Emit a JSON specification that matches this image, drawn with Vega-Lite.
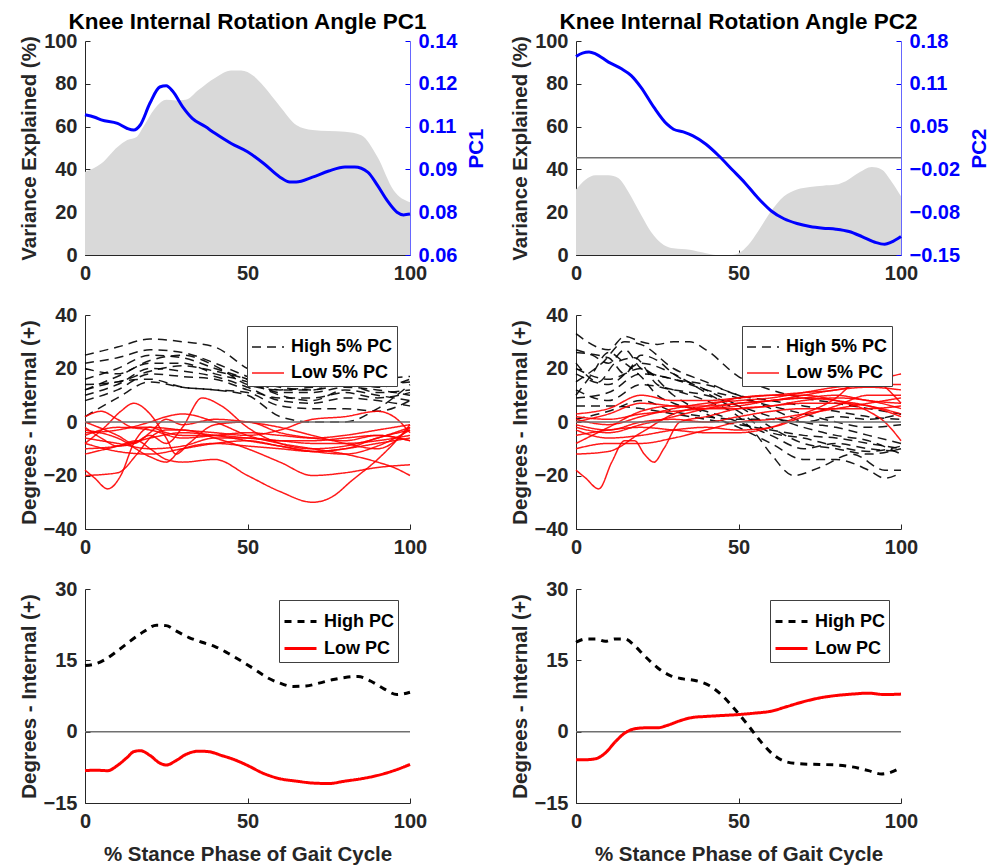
{
  "$schema": "https://vega.github.io/schema/vega-lite/v6.json",
  "background": "white",
  "padding": {"left": 19, "top": 11, "right": 5, "bottom": 5},
  "columns": 2,
  "bounds": "flush",
  "spacing": {"row": 60, "column": 166},
  "config": {
    "view": {"stroke": null},
    "font": "Liberation Sans",
    "axis": {"labelFont": "Liberation Sans", "labelFontSize": 20, "labelFontWeight": "bold", "labelColor": "#262626", "titleFont": "Liberation Sans", "titleFontSize": 20.5, "titleFontWeight": "bold", "titleColor": "#262626", "domainColor": "#262626", "tickColor": "#262626", "grid": false, "tickSize": -5, "labelPadding": 13, "labelFlush": false, "labelOverlap": false, "domainWidth": 1},
    "title": {"font": "Liberation Sans", "fontSize": 22.5, "fontWeight": "bold", "color": "#000000", "offset": -2.7},
    "legend": {"labelFont": "Liberation Sans"}
  },
  "datasets": {
    "var1": [
      {"x": 0, "v": 38.8}, {"x": 5, "v": 42.7}, {"x": 10, "v": 50.5}, {"x": 13, "v": 53.7}, {"x": 16, "v": 55.3}, {"x": 18, "v": 60}, {"x": 22, "v": 69.4}, {"x": 25, "v": 72.5}, {"x": 28, "v": 72.2}, {"x": 31, "v": 72.5}, {"x": 35, "v": 77.2}, {"x": 40, "v": 82.7}, {"x": 45, "v": 86.2}, {"x": 48, "v": 86.2}, {"x": 52, "v": 83.5}, {"x": 55, "v": 78.8}, {"x": 60, "v": 69.4}, {"x": 65, "v": 60.8}, {"x": 70, "v": 58.4}, {"x": 75, "v": 57.9}, {"x": 80, "v": 57.6}, {"x": 85, "v": 56}, {"x": 90, "v": 45.8}, {"x": 95, "v": 30.1}, {"x": 100, "v": 24.6}
    ],
    "pc1": [
      {"x": 0, "pc": 0.1124}, {"x": 3, "pc": 0.1115}, {"x": 5, "pc": 0.1105}, {"x": 10, "pc": 0.1092}, {"x": 13, "pc": 0.1073}, {"x": 15, "pc": 0.1067}, {"x": 17, "pc": 0.1086}, {"x": 20, "pc": 0.1168}, {"x": 23, "pc": 0.1228}, {"x": 25, "pc": 0.1233}, {"x": 27, "pc": 0.1212}, {"x": 30, "pc": 0.1155}, {"x": 33, "pc": 0.1111}, {"x": 37, "pc": 0.108}, {"x": 40, "pc": 0.1055}, {"x": 45, "pc": 0.1017}, {"x": 50, "pc": 0.0986}, {"x": 55, "pc": 0.0942}, {"x": 60, "pc": 0.0891}, {"x": 63, "pc": 0.0873}, {"x": 65, "pc": 0.0873}, {"x": 70, "pc": 0.0891}, {"x": 75, "pc": 0.0914}, {"x": 80, "pc": 0.0929}, {"x": 83, "pc": 0.0929}, {"x": 87, "pc": 0.091}, {"x": 90, "pc": 0.086}, {"x": 93, "pc": 0.0803}, {"x": 96, "pc": 0.076}, {"x": 98, "pc": 0.075}, {"x": 100, "pc": 0.0753}
    ],
    "var2": [
      {"x": 0, "v": 30.6}, {"x": 3, "v": 35.3}, {"x": 6, "v": 37.3}, {"x": 10, "v": 37.3}, {"x": 13, "v": 36}, {"x": 16, "v": 29.8}, {"x": 20, "v": 18.8}, {"x": 23, "v": 11}, {"x": 27, "v": 4.7}, {"x": 30, "v": 3.1}, {"x": 35, "v": 2.4}, {"x": 40, "v": 0.8}, {"x": 43, "v": 0}, {"x": 48, "v": 0}, {"x": 50, "v": 0.8}, {"x": 53, "v": 4.7}, {"x": 56, "v": 11}, {"x": 60, "v": 20.4}, {"x": 64, "v": 27.4}, {"x": 68, "v": 30.6}, {"x": 72, "v": 31.8}, {"x": 76, "v": 32.4}, {"x": 80, "v": 32.9}, {"x": 83, "v": 34.5}, {"x": 87, "v": 38.4}, {"x": 91, "v": 41.1}, {"x": 94, "v": 40}, {"x": 97, "v": 34.5}, {"x": 100, "v": 27.4}
    ],
    "pc2": [
      {"x": 0, "pc": 0.1562}, {"x": 2, "pc": 0.1614}, {"x": 4, "pc": 0.163}, {"x": 6, "pc": 0.1603}, {"x": 10, "pc": 0.1474}, {"x": 14, "pc": 0.1371}, {"x": 17, "pc": 0.1267}, {"x": 20, "pc": 0.1086}, {"x": 24, "pc": 0.0776}, {"x": 28, "pc": 0.0517}, {"x": 30, "pc": 0.044}, {"x": 33, "pc": 0.0398}, {"x": 36, "pc": 0.0336}, {"x": 40, "pc": 0.0207}, {"x": 44, "pc": 0.0026}, {"x": 48, "pc": -0.0181}, {"x": 52, "pc": -0.0388}, {"x": 56, "pc": -0.0621}, {"x": 60, "pc": -0.0817}, {"x": 64, "pc": -0.0941}, {"x": 68, "pc": -0.1014}, {"x": 72, "pc": -0.106}, {"x": 76, "pc": -0.1086}, {"x": 80, "pc": -0.1102}, {"x": 84, "pc": -0.1138}, {"x": 88, "pc": -0.1216}, {"x": 92, "pc": -0.1303}, {"x": 95, "pc": -0.1334}, {"x": 97, "pc": -0.1303}, {"x": 100, "pc": -0.1216}
    ],
    "zero": [{"zero": 0}],
    "mid1": [
      {"id": "h1", "g": "High 5% PC", "x": 0, "y": 25}, {"id": "h1", "g": "High 5% PC", "x": 10, "y": 28}, {"id": "h1", "g": "High 5% PC", "x": 20, "y": 31}, {"id": "h1", "g": "High 5% PC", "x": 30, "y": 30}, {"id": "h1", "g": "High 5% PC", "x": 40, "y": 28}, {"id": "h1", "g": "High 5% PC", "x": 50, "y": 20}, {"id": "h1", "g": "High 5% PC", "x": 60, "y": 15}, {"id": "h1", "g": "High 5% PC", "x": 70, "y": 14}, {"id": "h1", "g": "High 5% PC", "x": 80, "y": 16}, {"id": "h1", "g": "High 5% PC", "x": 90, "y": 13}, {"id": "h1", "g": "High 5% PC", "x": 100, "y": 16},
      {"id": "h2", "g": "High 5% PC", "x": 0, "y": 22}, {"id": "h2", "g": "High 5% PC", "x": 10, "y": 24}, {"id": "h2", "g": "High 5% PC", "x": 20, "y": 27}, {"id": "h2", "g": "High 5% PC", "x": 30, "y": 26}, {"id": "h2", "g": "High 5% PC", "x": 40, "y": 22}, {"id": "h2", "g": "High 5% PC", "x": 50, "y": 17}, {"id": "h2", "g": "High 5% PC", "x": 60, "y": 13}, {"id": "h2", "g": "High 5% PC", "x": 70, "y": 12}, {"id": "h2", "g": "High 5% PC", "x": 80, "y": 14}, {"id": "h2", "g": "High 5% PC", "x": 90, "y": 11}, {"id": "h2", "g": "High 5% PC", "x": 100, "y": 12},
      {"id": "h3", "g": "High 5% PC", "x": 0, "y": 16}, {"id": "h3", "g": "High 5% PC", "x": 10, "y": 20}, {"id": "h3", "g": "High 5% PC", "x": 20, "y": 25}, {"id": "h3", "g": "High 5% PC", "x": 30, "y": 24}, {"id": "h3", "g": "High 5% PC", "x": 40, "y": 20}, {"id": "h3", "g": "High 5% PC", "x": 50, "y": 16}, {"id": "h3", "g": "High 5% PC", "x": 60, "y": 11}, {"id": "h3", "g": "High 5% PC", "x": 70, "y": 11}, {"id": "h3", "g": "High 5% PC", "x": 80, "y": 13}, {"id": "h3", "g": "High 5% PC", "x": 90, "y": 12}, {"id": "h3", "g": "High 5% PC", "x": 100, "y": 10},
      {"id": "h4", "g": "High 5% PC", "x": 0, "y": 12}, {"id": "h4", "g": "High 5% PC", "x": 10, "y": 17}, {"id": "h4", "g": "High 5% PC", "x": 20, "y": 22}, {"id": "h4", "g": "High 5% PC", "x": 30, "y": 22}, {"id": "h4", "g": "High 5% PC", "x": 40, "y": 18}, {"id": "h4", "g": "High 5% PC", "x": 50, "y": 15}, {"id": "h4", "g": "High 5% PC", "x": 60, "y": 10}, {"id": "h4", "g": "High 5% PC", "x": 70, "y": 8}, {"id": "h4", "g": "High 5% PC", "x": 80, "y": 12}, {"id": "h4", "g": "High 5% PC", "x": 90, "y": 10}, {"id": "h4", "g": "High 5% PC", "x": 100, "y": 8},
      {"id": "h5", "g": "High 5% PC", "x": 0, "y": 10}, {"id": "h5", "g": "High 5% PC", "x": 10, "y": 14}, {"id": "h5", "g": "High 5% PC", "x": 20, "y": 20}, {"id": "h5", "g": "High 5% PC", "x": 30, "y": 19}, {"id": "h5", "g": "High 5% PC", "x": 40, "y": 17}, {"id": "h5", "g": "High 5% PC", "x": 50, "y": 13}, {"id": "h5", "g": "High 5% PC", "x": 60, "y": 8}, {"id": "h5", "g": "High 5% PC", "x": 70, "y": 7}, {"id": "h5", "g": "High 5% PC", "x": 80, "y": 9}, {"id": "h5", "g": "High 5% PC", "x": 90, "y": 8}, {"id": "h5", "g": "High 5% PC", "x": 100, "y": 6},
      {"id": "h6", "g": "High 5% PC", "x": 0, "y": 8}, {"id": "h6", "g": "High 5% PC", "x": 10, "y": 12}, {"id": "h6", "g": "High 5% PC", "x": 20, "y": 18}, {"id": "h6", "g": "High 5% PC", "x": 30, "y": 17}, {"id": "h6", "g": "High 5% PC", "x": 40, "y": 16}, {"id": "h6", "g": "High 5% PC", "x": 50, "y": 12}, {"id": "h6", "g": "High 5% PC", "x": 60, "y": 9}, {"id": "h6", "g": "High 5% PC", "x": 70, "y": 9}, {"id": "h6", "g": "High 5% PC", "x": 80, "y": 11}, {"id": "h6", "g": "High 5% PC", "x": 90, "y": 9}, {"id": "h6", "g": "High 5% PC", "x": 100, "y": 11},
      {"id": "h7", "g": "High 5% PC", "x": 0, "y": 2}, {"id": "h7", "g": "High 5% PC", "x": 10, "y": 9}, {"id": "h7", "g": "High 5% PC", "x": 20, "y": 15}, {"id": "h7", "g": "High 5% PC", "x": 30, "y": 13}, {"id": "h7", "g": "High 5% PC", "x": 40, "y": 12}, {"id": "h7", "g": "High 5% PC", "x": 50, "y": 11}, {"id": "h7", "g": "High 5% PC", "x": 60, "y": 6}, {"id": "h7", "g": "High 5% PC", "x": 70, "y": 5}, {"id": "h7", "g": "High 5% PC", "x": 80, "y": 5}, {"id": "h7", "g": "High 5% PC", "x": 90, "y": 4}, {"id": "h7", "g": "High 5% PC", "x": 100, "y": 8},
      {"id": "h8", "g": "High 5% PC", "x": 0, "y": 12}, {"id": "h8", "g": "High 5% PC", "x": 10, "y": 15}, {"id": "h8", "g": "High 5% PC", "x": 20, "y": 16}, {"id": "h8", "g": "High 5% PC", "x": 30, "y": 13}, {"id": "h8", "g": "High 5% PC", "x": 40, "y": 12}, {"id": "h8", "g": "High 5% PC", "x": 50, "y": 10}, {"id": "h8", "g": "High 5% PC", "x": 60, "y": 2}, {"id": "h8", "g": "High 5% PC", "x": 70, "y": 0}, {"id": "h8", "g": "High 5% PC", "x": 80, "y": 0}, {"id": "h8", "g": "High 5% PC", "x": 90, "y": 5}, {"id": "h8", "g": "High 5% PC", "x": 100, "y": 14},
      {"id": "h9", "g": "High 5% PC", "x": 0, "y": 20}, {"id": "h9", "g": "High 5% PC", "x": 10, "y": 18}, {"id": "h9", "g": "High 5% PC", "x": 20, "y": 23}, {"id": "h9", "g": "High 5% PC", "x": 30, "y": 25}, {"id": "h9", "g": "High 5% PC", "x": 40, "y": 21}, {"id": "h9", "g": "High 5% PC", "x": 50, "y": 14}, {"id": "h9", "g": "High 5% PC", "x": 60, "y": 12}, {"id": "h9", "g": "High 5% PC", "x": 70, "y": 12}, {"id": "h9", "g": "High 5% PC", "x": 80, "y": 15}, {"id": "h9", "g": "High 5% PC", "x": 90, "y": 14}, {"id": "h9", "g": "High 5% PC", "x": 100, "y": 15},
      {"id": "h10", "g": "High 5% PC", "x": 0, "y": 14}, {"id": "h10", "g": "High 5% PC", "x": 10, "y": 15}, {"id": "h10", "g": "High 5% PC", "x": 20, "y": 19}, {"id": "h10", "g": "High 5% PC", "x": 30, "y": 21}, {"id": "h10", "g": "High 5% PC", "x": 40, "y": 19}, {"id": "h10", "g": "High 5% PC", "x": 50, "y": 16}, {"id": "h10", "g": "High 5% PC", "x": 60, "y": 12}, {"id": "h10", "g": "High 5% PC", "x": 70, "y": 13}, {"id": "h10", "g": "High 5% PC", "x": 80, "y": 14}, {"id": "h10", "g": "High 5% PC", "x": 90, "y": 16}, {"id": "h10", "g": "High 5% PC", "x": 100, "y": 17},
      {"id": "l1", "g": "Low 5% PC", "x": 0, "y": -2}, {"id": "l1", "g": "Low 5% PC", "x": 5, "y": -6}, {"id": "l1", "g": "Low 5% PC", "x": 10, "y": -9}, {"id": "l1", "g": "Low 5% PC", "x": 15, "y": -8}, {"id": "l1", "g": "Low 5% PC", "x": 20, "y": -5}, {"id": "l1", "g": "Low 5% PC", "x": 25, "y": -8}, {"id": "l1", "g": "Low 5% PC", "x": 30, "y": -2}, {"id": "l1", "g": "Low 5% PC", "x": 36, "y": 9}, {"id": "l1", "g": "Low 5% PC", "x": 42, "y": 6}, {"id": "l1", "g": "Low 5% PC", "x": 50, "y": -2}, {"id": "l1", "g": "Low 5% PC", "x": 60, "y": -8}, {"id": "l1", "g": "Low 5% PC", "x": 70, "y": -10}, {"id": "l1", "g": "Low 5% PC", "x": 80, "y": -9}, {"id": "l1", "g": "Low 5% PC", "x": 90, "y": -6}, {"id": "l1", "g": "Low 5% PC", "x": 100, "y": -2},
      {"id": "l2", "g": "Low 5% PC", "x": 0, "y": -18}, {"id": "l2", "g": "Low 5% PC", "x": 3, "y": -21}, {"id": "l2", "g": "Low 5% PC", "x": 7, "y": -25}, {"id": "l2", "g": "Low 5% PC", "x": 11, "y": -20}, {"id": "l2", "g": "Low 5% PC", "x": 15, "y": -8}, {"id": "l2", "g": "Low 5% PC", "x": 20, "y": -2}, {"id": "l2", "g": "Low 5% PC", "x": 25, "y": -4}, {"id": "l2", "g": "Low 5% PC", "x": 30, "y": -5}, {"id": "l2", "g": "Low 5% PC", "x": 40, "y": -5}, {"id": "l2", "g": "Low 5% PC", "x": 50, "y": -6}, {"id": "l2", "g": "Low 5% PC", "x": 60, "y": -7}, {"id": "l2", "g": "Low 5% PC", "x": 70, "y": -7}, {"id": "l2", "g": "Low 5% PC", "x": 80, "y": -6}, {"id": "l2", "g": "Low 5% PC", "x": 90, "y": -5}, {"id": "l2", "g": "Low 5% PC", "x": 100, "y": -7},
      {"id": "l3", "g": "Low 5% PC", "x": 0, "y": -12}, {"id": "l3", "g": "Low 5% PC", "x": 10, "y": -9}, {"id": "l3", "g": "Low 5% PC", "x": 16, "y": -7}, {"id": "l3", "g": "Low 5% PC", "x": 20, "y": -10}, {"id": "l3", "g": "Low 5% PC", "x": 25, "y": -14}, {"id": "l3", "g": "Low 5% PC", "x": 30, "y": -15}, {"id": "l3", "g": "Low 5% PC", "x": 40, "y": -14}, {"id": "l3", "g": "Low 5% PC", "x": 50, "y": -20}, {"id": "l3", "g": "Low 5% PC", "x": 60, "y": -26}, {"id": "l3", "g": "Low 5% PC", "x": 70, "y": -30}, {"id": "l3", "g": "Low 5% PC", "x": 76, "y": -28}, {"id": "l3", "g": "Low 5% PC", "x": 82, "y": -22}, {"id": "l3", "g": "Low 5% PC", "x": 90, "y": -14}, {"id": "l3", "g": "Low 5% PC", "x": 95, "y": -8}, {"id": "l3", "g": "Low 5% PC", "x": 100, "y": -1},
      {"id": "l4", "g": "Low 5% PC", "x": 0, "y": -20}, {"id": "l4", "g": "Low 5% PC", "x": 10, "y": -19}, {"id": "l4", "g": "Low 5% PC", "x": 16, "y": -12}, {"id": "l4", "g": "Low 5% PC", "x": 20, "y": -6}, {"id": "l4", "g": "Low 5% PC", "x": 25, "y": -3}, {"id": "l4", "g": "Low 5% PC", "x": 30, "y": -3}, {"id": "l4", "g": "Low 5% PC", "x": 40, "y": -6}, {"id": "l4", "g": "Low 5% PC", "x": 50, "y": -10}, {"id": "l4", "g": "Low 5% PC", "x": 60, "y": -15}, {"id": "l4", "g": "Low 5% PC", "x": 70, "y": -20}, {"id": "l4", "g": "Low 5% PC", "x": 80, "y": -19}, {"id": "l4", "g": "Low 5% PC", "x": 90, "y": -17}, {"id": "l4", "g": "Low 5% PC", "x": 100, "y": -16},
      {"id": "l5", "g": "Low 5% PC", "x": 0, "y": -8}, {"id": "l5", "g": "Low 5% PC", "x": 6, "y": -2}, {"id": "l5", "g": "Low 5% PC", "x": 11, "y": 4}, {"id": "l5", "g": "Low 5% PC", "x": 15, "y": 7}, {"id": "l5", "g": "Low 5% PC", "x": 20, "y": 3}, {"id": "l5", "g": "Low 5% PC", "x": 25, "y": -6}, {"id": "l5", "g": "Low 5% PC", "x": 28, "y": -12}, {"id": "l5", "g": "Low 5% PC", "x": 32, "y": -8}, {"id": "l5", "g": "Low 5% PC", "x": 40, "y": -1}, {"id": "l5", "g": "Low 5% PC", "x": 50, "y": 0}, {"id": "l5", "g": "Low 5% PC", "x": 60, "y": -4}, {"id": "l5", "g": "Low 5% PC", "x": 70, "y": -6}, {"id": "l5", "g": "Low 5% PC", "x": 80, "y": -7}, {"id": "l5", "g": "Low 5% PC", "x": 90, "y": -5}, {"id": "l5", "g": "Low 5% PC", "x": 100, "y": -7},
      {"id": "l6", "g": "Low 5% PC", "x": 0, "y": 2}, {"id": "l6", "g": "Low 5% PC", "x": 5, "y": 4}, {"id": "l6", "g": "Low 5% PC", "x": 10, "y": 1}, {"id": "l6", "g": "Low 5% PC", "x": 15, "y": -2}, {"id": "l6", "g": "Low 5% PC", "x": 20, "y": -2}, {"id": "l6", "g": "Low 5% PC", "x": 30, "y": -3}, {"id": "l6", "g": "Low 5% PC", "x": 40, "y": -4}, {"id": "l6", "g": "Low 5% PC", "x": 50, "y": -5}, {"id": "l6", "g": "Low 5% PC", "x": 60, "y": -3}, {"id": "l6", "g": "Low 5% PC", "x": 70, "y": 1}, {"id": "l6", "g": "Low 5% PC", "x": 80, "y": 2}, {"id": "l6", "g": "Low 5% PC", "x": 90, "y": 4}, {"id": "l6", "g": "Low 5% PC", "x": 95, "y": 2}, {"id": "l6", "g": "Low 5% PC", "x": 100, "y": -4},
      {"id": "l7", "g": "Low 5% PC", "x": 0, "y": 0}, {"id": "l7", "g": "Low 5% PC", "x": 10, "y": -5}, {"id": "l7", "g": "Low 5% PC", "x": 15, "y": -8}, {"id": "l7", "g": "Low 5% PC", "x": 20, "y": -4}, {"id": "l7", "g": "Low 5% PC", "x": 25, "y": 1}, {"id": "l7", "g": "Low 5% PC", "x": 30, "y": -1}, {"id": "l7", "g": "Low 5% PC", "x": 40, "y": 1}, {"id": "l7", "g": "Low 5% PC", "x": 50, "y": 0}, {"id": "l7", "g": "Low 5% PC", "x": 60, "y": -2}, {"id": "l7", "g": "Low 5% PC", "x": 70, "y": -5}, {"id": "l7", "g": "Low 5% PC", "x": 80, "y": -8}, {"id": "l7", "g": "Low 5% PC", "x": 90, "y": -10}, {"id": "l7", "g": "Low 5% PC", "x": 100, "y": -2},
      {"id": "l8", "g": "Low 5% PC", "x": 0, "y": -4}, {"id": "l8", "g": "Low 5% PC", "x": 10, "y": -3}, {"id": "l8", "g": "Low 5% PC", "x": 20, "y": 0}, {"id": "l8", "g": "Low 5% PC", "x": 25, "y": 2}, {"id": "l8", "g": "Low 5% PC", "x": 30, "y": 3}, {"id": "l8", "g": "Low 5% PC", "x": 40, "y": 0}, {"id": "l8", "g": "Low 5% PC", "x": 50, "y": -5}, {"id": "l8", "g": "Low 5% PC", "x": 60, "y": -8}, {"id": "l8", "g": "Low 5% PC", "x": 70, "y": -10}, {"id": "l8", "g": "Low 5% PC", "x": 80, "y": -12}, {"id": "l8", "g": "Low 5% PC", "x": 90, "y": -15}, {"id": "l8", "g": "Low 5% PC", "x": 95, "y": -17}, {"id": "l8", "g": "Low 5% PC", "x": 100, "y": -20},
      {"id": "l9", "g": "Low 5% PC", "x": 0, "y": -6}, {"id": "l9", "g": "Low 5% PC", "x": 10, "y": -8}, {"id": "l9", "g": "Low 5% PC", "x": 20, "y": -10}, {"id": "l9", "g": "Low 5% PC", "x": 30, "y": -9}, {"id": "l9", "g": "Low 5% PC", "x": 40, "y": -6}, {"id": "l9", "g": "Low 5% PC", "x": 50, "y": -6}, {"id": "l9", "g": "Low 5% PC", "x": 60, "y": -7}, {"id": "l9", "g": "Low 5% PC", "x": 70, "y": -8}, {"id": "l9", "g": "Low 5% PC", "x": 80, "y": -8}, {"id": "l9", "g": "Low 5% PC", "x": 90, "y": -7}, {"id": "l9", "g": "Low 5% PC", "x": 100, "y": -5},
      {"id": "l10", "g": "Low 5% PC", "x": 0, "y": -10}, {"id": "l10", "g": "Low 5% PC", "x": 10, "y": -9}, {"id": "l10", "g": "Low 5% PC", "x": 20, "y": -6}, {"id": "l10", "g": "Low 5% PC", "x": 30, "y": -4}, {"id": "l10", "g": "Low 5% PC", "x": 40, "y": -5}, {"id": "l10", "g": "Low 5% PC", "x": 50, "y": -7}, {"id": "l10", "g": "Low 5% PC", "x": 60, "y": -9}, {"id": "l10", "g": "Low 5% PC", "x": 70, "y": -11}, {"id": "l10", "g": "Low 5% PC", "x": 80, "y": -12}, {"id": "l10", "g": "Low 5% PC", "x": 90, "y": -9}, {"id": "l10", "g": "Low 5% PC", "x": 100, "y": -3},
      {"id": "l11", "g": "Low 5% PC", "x": 0, "y": -5}, {"id": "l11", "g": "Low 5% PC", "x": 10, "y": -2}, {"id": "l11", "g": "Low 5% PC", "x": 20, "y": -3}, {"id": "l11", "g": "Low 5% PC", "x": 30, "y": -6}, {"id": "l11", "g": "Low 5% PC", "x": 40, "y": -5}, {"id": "l11", "g": "Low 5% PC", "x": 50, "y": -4}, {"id": "l11", "g": "Low 5% PC", "x": 60, "y": -5}, {"id": "l11", "g": "Low 5% PC", "x": 70, "y": -6}, {"id": "l11", "g": "Low 5% PC", "x": 80, "y": -5}, {"id": "l11", "g": "Low 5% PC", "x": 90, "y": -3}, {"id": "l11", "g": "Low 5% PC", "x": 100, "y": -1},
      {"id": "l12", "g": "Low 5% PC", "x": 0, "y": -3}, {"id": "l12", "g": "Low 5% PC", "x": 10, "y": -6}, {"id": "l12", "g": "Low 5% PC", "x": 20, "y": -13}, {"id": "l12", "g": "Low 5% PC", "x": 25, "y": -15}, {"id": "l12", "g": "Low 5% PC", "x": 30, "y": -10}, {"id": "l12", "g": "Low 5% PC", "x": 40, "y": -8}, {"id": "l12", "g": "Low 5% PC", "x": 50, "y": -9}, {"id": "l12", "g": "Low 5% PC", "x": 60, "y": -10}, {"id": "l12", "g": "Low 5% PC", "x": 70, "y": -11}, {"id": "l12", "g": "Low 5% PC", "x": 80, "y": -10}, {"id": "l12", "g": "Low 5% PC", "x": 90, "y": -8}, {"id": "l12", "g": "Low 5% PC", "x": 100, "y": -6},
      {"id": "l13", "g": "Low 5% PC", "x": 0, "y": -8}, {"id": "l13", "g": "Low 5% PC", "x": 10, "y": -11}, {"id": "l13", "g": "Low 5% PC", "x": 20, "y": -12}, {"id": "l13", "g": "Low 5% PC", "x": 30, "y": -10}, {"id": "l13", "g": "Low 5% PC", "x": 40, "y": -8}, {"id": "l13", "g": "Low 5% PC", "x": 50, "y": -7}, {"id": "l13", "g": "Low 5% PC", "x": 60, "y": -9}, {"id": "l13", "g": "Low 5% PC", "x": 70, "y": -11}, {"id": "l13", "g": "Low 5% PC", "x": 80, "y": -10}, {"id": "l13", "g": "Low 5% PC", "x": 90, "y": -6}, {"id": "l13", "g": "Low 5% PC", "x": 100, "y": -3}
    ],
    "mid2": [
      {"id": "m1", "g": "High 5% PC", "x": 0, "y": 33}, {"id": "m1", "g": "High 5% PC", "x": 10, "y": 27}, {"id": "m1", "g": "High 5% PC", "x": 15, "y": 32}, {"id": "m1", "g": "High 5% PC", "x": 20, "y": 30}, {"id": "m1", "g": "High 5% PC", "x": 25, "y": 29}, {"id": "m1", "g": "High 5% PC", "x": 30, "y": 30}, {"id": "m1", "g": "High 5% PC", "x": 35, "y": 30}, {"id": "m1", "g": "High 5% PC", "x": 40, "y": 27}, {"id": "m1", "g": "High 5% PC", "x": 50, "y": 17}, {"id": "m1", "g": "High 5% PC", "x": 60, "y": 12}, {"id": "m1", "g": "High 5% PC", "x": 70, "y": 9}, {"id": "m1", "g": "High 5% PC", "x": 80, "y": 7}, {"id": "m1", "g": "High 5% PC", "x": 90, "y": 5}, {"id": "m1", "g": "High 5% PC", "x": 100, "y": 3},
      {"id": "m2", "g": "High 5% PC", "x": 0, "y": 27}, {"id": "m2", "g": "High 5% PC", "x": 5, "y": 25}, {"id": "m2", "g": "High 5% PC", "x": 10, "y": 22}, {"id": "m2", "g": "High 5% PC", "x": 15, "y": 27}, {"id": "m2", "g": "High 5% PC", "x": 20, "y": 20}, {"id": "m2", "g": "High 5% PC", "x": 30, "y": 16}, {"id": "m2", "g": "High 5% PC", "x": 40, "y": 14}, {"id": "m2", "g": "High 5% PC", "x": 50, "y": 10}, {"id": "m2", "g": "High 5% PC", "x": 60, "y": 5}, {"id": "m2", "g": "High 5% PC", "x": 70, "y": 0}, {"id": "m2", "g": "High 5% PC", "x": 80, "y": -2}, {"id": "m2", "g": "High 5% PC", "x": 90, "y": -5}, {"id": "m2", "g": "High 5% PC", "x": 100, "y": -8},
      {"id": "m3", "g": "High 5% PC", "x": 0, "y": 26}, {"id": "m3", "g": "High 5% PC", "x": 10, "y": 24}, {"id": "m3", "g": "High 5% PC", "x": 15, "y": 18}, {"id": "m3", "g": "High 5% PC", "x": 20, "y": 25}, {"id": "m3", "g": "High 5% PC", "x": 25, "y": 23}, {"id": "m3", "g": "High 5% PC", "x": 30, "y": 18}, {"id": "m3", "g": "High 5% PC", "x": 40, "y": 12}, {"id": "m3", "g": "High 5% PC", "x": 50, "y": 6}, {"id": "m3", "g": "High 5% PC", "x": 60, "y": -2}, {"id": "m3", "g": "High 5% PC", "x": 70, "y": -8}, {"id": "m3", "g": "High 5% PC", "x": 80, "y": -10}, {"id": "m3", "g": "High 5% PC", "x": 90, "y": -12}, {"id": "m3", "g": "High 5% PC", "x": 100, "y": -10},
      {"id": "m4", "g": "High 5% PC", "x": 0, "y": 22}, {"id": "m4", "g": "High 5% PC", "x": 7, "y": 15}, {"id": "m4", "g": "High 5% PC", "x": 12, "y": 22}, {"id": "m4", "g": "High 5% PC", "x": 18, "y": 24}, {"id": "m4", "g": "High 5% PC", "x": 25, "y": 14}, {"id": "m4", "g": "High 5% PC", "x": 30, "y": 12}, {"id": "m4", "g": "High 5% PC", "x": 40, "y": 8}, {"id": "m4", "g": "High 5% PC", "x": 50, "y": 2}, {"id": "m4", "g": "High 5% PC", "x": 55, "y": -4}, {"id": "m4", "g": "High 5% PC", "x": 60, "y": -12}, {"id": "m4", "g": "High 5% PC", "x": 67, "y": -20}, {"id": "m4", "g": "High 5% PC", "x": 75, "y": -17}, {"id": "m4", "g": "High 5% PC", "x": 85, "y": -12}, {"id": "m4", "g": "High 5% PC", "x": 95, "y": -18}, {"id": "m4", "g": "High 5% PC", "x": 100, "y": -18},
      {"id": "m5", "g": "High 5% PC", "x": 0, "y": 20}, {"id": "m5", "g": "High 5% PC", "x": 10, "y": 16}, {"id": "m5", "g": "High 5% PC", "x": 20, "y": 20}, {"id": "m5", "g": "High 5% PC", "x": 30, "y": 10}, {"id": "m5", "g": "High 5% PC", "x": 40, "y": 3}, {"id": "m5", "g": "High 5% PC", "x": 50, "y": -2}, {"id": "m5", "g": "High 5% PC", "x": 60, "y": -8}, {"id": "m5", "g": "High 5% PC", "x": 70, "y": -14}, {"id": "m5", "g": "High 5% PC", "x": 80, "y": -14}, {"id": "m5", "g": "High 5% PC", "x": 90, "y": -18}, {"id": "m5", "g": "High 5% PC", "x": 95, "y": -21}, {"id": "m5", "g": "High 5% PC", "x": 100, "y": -19},
      {"id": "m6", "g": "High 5% PC", "x": 0, "y": 10}, {"id": "m6", "g": "High 5% PC", "x": 5, "y": 18}, {"id": "m6", "g": "High 5% PC", "x": 10, "y": 26}, {"id": "m6", "g": "High 5% PC", "x": 15, "y": 22}, {"id": "m6", "g": "High 5% PC", "x": 20, "y": 17}, {"id": "m6", "g": "High 5% PC", "x": 25, "y": 10}, {"id": "m6", "g": "High 5% PC", "x": 30, "y": 7}, {"id": "m6", "g": "High 5% PC", "x": 40, "y": 4}, {"id": "m6", "g": "High 5% PC", "x": 50, "y": 0}, {"id": "m6", "g": "High 5% PC", "x": 60, "y": -5}, {"id": "m6", "g": "High 5% PC", "x": 70, "y": -10}, {"id": "m6", "g": "High 5% PC", "x": 80, "y": -8}, {"id": "m6", "g": "High 5% PC", "x": 90, "y": -10}, {"id": "m6", "g": "High 5% PC", "x": 100, "y": -11},
      {"id": "m7", "g": "High 5% PC", "x": 0, "y": 12}, {"id": "m7", "g": "High 5% PC", "x": 10, "y": 8}, {"id": "m7", "g": "High 5% PC", "x": 20, "y": 14}, {"id": "m7", "g": "High 5% PC", "x": 30, "y": 12}, {"id": "m7", "g": "High 5% PC", "x": 40, "y": 10}, {"id": "m7", "g": "High 5% PC", "x": 50, "y": 6}, {"id": "m7", "g": "High 5% PC", "x": 60, "y": 2}, {"id": "m7", "g": "High 5% PC", "x": 70, "y": -2}, {"id": "m7", "g": "High 5% PC", "x": 80, "y": -5}, {"id": "m7", "g": "High 5% PC", "x": 90, "y": -7}, {"id": "m7", "g": "High 5% PC", "x": 100, "y": -12},
      {"id": "m8", "g": "High 5% PC", "x": 0, "y": 6}, {"id": "m8", "g": "High 5% PC", "x": 10, "y": 6}, {"id": "m8", "g": "High 5% PC", "x": 20, "y": 5}, {"id": "m8", "g": "High 5% PC", "x": 30, "y": 3}, {"id": "m8", "g": "High 5% PC", "x": 40, "y": 1}, {"id": "m8", "g": "High 5% PC", "x": 50, "y": -1}, {"id": "m8", "g": "High 5% PC", "x": 60, "y": -3}, {"id": "m8", "g": "High 5% PC", "x": 70, "y": -5}, {"id": "m8", "g": "High 5% PC", "x": 80, "y": -6}, {"id": "m8", "g": "High 5% PC", "x": 90, "y": -8}, {"id": "m8", "g": "High 5% PC", "x": 100, "y": -10},
      {"id": "m9", "g": "High 5% PC", "x": 0, "y": 1}, {"id": "m9", "g": "High 5% PC", "x": 10, "y": 4}, {"id": "m9", "g": "High 5% PC", "x": 20, "y": 8}, {"id": "m9", "g": "High 5% PC", "x": 30, "y": 4}, {"id": "m9", "g": "High 5% PC", "x": 40, "y": 2}, {"id": "m9", "g": "High 5% PC", "x": 50, "y": 1}, {"id": "m9", "g": "High 5% PC", "x": 60, "y": 1}, {"id": "m9", "g": "High 5% PC", "x": 70, "y": 0}, {"id": "m9", "g": "High 5% PC", "x": 80, "y": 2}, {"id": "m9", "g": "High 5% PC", "x": 90, "y": 1}, {"id": "m9", "g": "High 5% PC", "x": 100, "y": 3},
      {"id": "m10", "g": "High 5% PC", "x": 0, "y": 9}, {"id": "m10", "g": "High 5% PC", "x": 10, "y": 11}, {"id": "m10", "g": "High 5% PC", "x": 20, "y": 18}, {"id": "m10", "g": "High 5% PC", "x": 30, "y": 16}, {"id": "m10", "g": "High 5% PC", "x": 40, "y": 12}, {"id": "m10", "g": "High 5% PC", "x": 50, "y": 9}, {"id": "m10", "g": "High 5% PC", "x": 60, "y": 6}, {"id": "m10", "g": "High 5% PC", "x": 70, "y": 3}, {"id": "m10", "g": "High 5% PC", "x": 80, "y": 0}, {"id": "m10", "g": "High 5% PC", "x": 90, "y": -2}, {"id": "m10", "g": "High 5% PC", "x": 100, "y": -1},
      {"id": "m11", "g": "High 5% PC", "x": 0, "y": 15}, {"id": "m11", "g": "High 5% PC", "x": 8, "y": 22}, {"id": "m11", "g": "High 5% PC", "x": 15, "y": 30}, {"id": "m11", "g": "High 5% PC", "x": 20, "y": 29}, {"id": "m11", "g": "High 5% PC", "x": 30, "y": 20}, {"id": "m11", "g": "High 5% PC", "x": 40, "y": 15}, {"id": "m11", "g": "High 5% PC", "x": 50, "y": 10}, {"id": "m11", "g": "High 5% PC", "x": 60, "y": 8}, {"id": "m11", "g": "High 5% PC", "x": 70, "y": 6}, {"id": "m11", "g": "High 5% PC", "x": 80, "y": 4}, {"id": "m11", "g": "High 5% PC", "x": 90, "y": 2}, {"id": "m11", "g": "High 5% PC", "x": 100, "y": 1},
      {"id": "m12", "g": "High 5% PC", "x": 0, "y": 18}, {"id": "m12", "g": "High 5% PC", "x": 10, "y": 14}, {"id": "m12", "g": "High 5% PC", "x": 20, "y": 22}, {"id": "m12", "g": "High 5% PC", "x": 30, "y": 18}, {"id": "m12", "g": "High 5% PC", "x": 40, "y": 11}, {"id": "m12", "g": "High 5% PC", "x": 50, "y": 4}, {"id": "m12", "g": "High 5% PC", "x": 60, "y": -4}, {"id": "m12", "g": "High 5% PC", "x": 70, "y": -6}, {"id": "m12", "g": "High 5% PC", "x": 80, "y": -9}, {"id": "m12", "g": "High 5% PC", "x": 90, "y": -11}, {"id": "m12", "g": "High 5% PC", "x": 100, "y": -9},
      {"id": "r1", "g": "Low 5% PC", "x": 0, "y": -18}, {"id": "r1", "g": "Low 5% PC", "x": 3, "y": -21}, {"id": "r1", "g": "Low 5% PC", "x": 7, "y": -25}, {"id": "r1", "g": "Low 5% PC", "x": 11, "y": -15}, {"id": "r1", "g": "Low 5% PC", "x": 15, "y": -7}, {"id": "r1", "g": "Low 5% PC", "x": 18, "y": -7}, {"id": "r1", "g": "Low 5% PC", "x": 21, "y": -12}, {"id": "r1", "g": "Low 5% PC", "x": 24, "y": -15}, {"id": "r1", "g": "Low 5% PC", "x": 27, "y": -10}, {"id": "r1", "g": "Low 5% PC", "x": 32, "y": 0}, {"id": "r1", "g": "Low 5% PC", "x": 40, "y": 2}, {"id": "r1", "g": "Low 5% PC", "x": 50, "y": 5}, {"id": "r1", "g": "Low 5% PC", "x": 60, "y": 6}, {"id": "r1", "g": "Low 5% PC", "x": 70, "y": 8}, {"id": "r1", "g": "Low 5% PC", "x": 80, "y": 9}, {"id": "r1", "g": "Low 5% PC", "x": 90, "y": 8}, {"id": "r1", "g": "Low 5% PC", "x": 100, "y": 5},
      {"id": "r2", "g": "Low 5% PC", "x": 0, "y": 3}, {"id": "r2", "g": "Low 5% PC", "x": 10, "y": 5}, {"id": "r2", "g": "Low 5% PC", "x": 20, "y": 10}, {"id": "r2", "g": "Low 5% PC", "x": 30, "y": 8}, {"id": "r2", "g": "Low 5% PC", "x": 40, "y": 8}, {"id": "r2", "g": "Low 5% PC", "x": 50, "y": 9}, {"id": "r2", "g": "Low 5% PC", "x": 60, "y": 10}, {"id": "r2", "g": "Low 5% PC", "x": 70, "y": 11}, {"id": "r2", "g": "Low 5% PC", "x": 80, "y": 12}, {"id": "r2", "g": "Low 5% PC", "x": 90, "y": 15}, {"id": "r2", "g": "Low 5% PC", "x": 100, "y": 18},
      {"id": "r3", "g": "Low 5% PC", "x": 0, "y": 1}, {"id": "r3", "g": "Low 5% PC", "x": 10, "y": -1}, {"id": "r3", "g": "Low 5% PC", "x": 20, "y": 2}, {"id": "r3", "g": "Low 5% PC", "x": 30, "y": 5}, {"id": "r3", "g": "Low 5% PC", "x": 40, "y": 7}, {"id": "r3", "g": "Low 5% PC", "x": 50, "y": 8}, {"id": "r3", "g": "Low 5% PC", "x": 60, "y": 9}, {"id": "r3", "g": "Low 5% PC", "x": 70, "y": 11}, {"id": "r3", "g": "Low 5% PC", "x": 80, "y": 13}, {"id": "r3", "g": "Low 5% PC", "x": 90, "y": 14}, {"id": "r3", "g": "Low 5% PC", "x": 100, "y": 14},
      {"id": "r4", "g": "Low 5% PC", "x": 0, "y": -2}, {"id": "r4", "g": "Low 5% PC", "x": 10, "y": -4}, {"id": "r4", "g": "Low 5% PC", "x": 20, "y": -1}, {"id": "r4", "g": "Low 5% PC", "x": 30, "y": 2}, {"id": "r4", "g": "Low 5% PC", "x": 40, "y": 5}, {"id": "r4", "g": "Low 5% PC", "x": 50, "y": 7}, {"id": "r4", "g": "Low 5% PC", "x": 60, "y": 8}, {"id": "r4", "g": "Low 5% PC", "x": 70, "y": 10}, {"id": "r4", "g": "Low 5% PC", "x": 80, "y": 12}, {"id": "r4", "g": "Low 5% PC", "x": 90, "y": 13}, {"id": "r4", "g": "Low 5% PC", "x": 100, "y": 12},
      {"id": "r5", "g": "Low 5% PC", "x": 0, "y": 0}, {"id": "r5", "g": "Low 5% PC", "x": 10, "y": 3}, {"id": "r5", "g": "Low 5% PC", "x": 20, "y": 7}, {"id": "r5", "g": "Low 5% PC", "x": 30, "y": 6}, {"id": "r5", "g": "Low 5% PC", "x": 40, "y": 5}, {"id": "r5", "g": "Low 5% PC", "x": 50, "y": 5}, {"id": "r5", "g": "Low 5% PC", "x": 60, "y": 6}, {"id": "r5", "g": "Low 5% PC", "x": 70, "y": 7}, {"id": "r5", "g": "Low 5% PC", "x": 80, "y": 7}, {"id": "r5", "g": "Low 5% PC", "x": 90, "y": 6}, {"id": "r5", "g": "Low 5% PC", "x": 100, "y": 3},
      {"id": "r6", "g": "Low 5% PC", "x": 0, "y": -3}, {"id": "r6", "g": "Low 5% PC", "x": 10, "y": -6}, {"id": "r6", "g": "Low 5% PC", "x": 20, "y": -5}, {"id": "r6", "g": "Low 5% PC", "x": 30, "y": -3}, {"id": "r6", "g": "Low 5% PC", "x": 40, "y": -2}, {"id": "r6", "g": "Low 5% PC", "x": 50, "y": -3}, {"id": "r6", "g": "Low 5% PC", "x": 60, "y": -2}, {"id": "r6", "g": "Low 5% PC", "x": 70, "y": 2}, {"id": "r6", "g": "Low 5% PC", "x": 80, "y": 6}, {"id": "r6", "g": "Low 5% PC", "x": 90, "y": 10}, {"id": "r6", "g": "Low 5% PC", "x": 100, "y": 10},
      {"id": "r7", "g": "Low 5% PC", "x": 0, "y": -5}, {"id": "r7", "g": "Low 5% PC", "x": 10, "y": -3}, {"id": "r7", "g": "Low 5% PC", "x": 20, "y": -2}, {"id": "r7", "g": "Low 5% PC", "x": 30, "y": -3}, {"id": "r7", "g": "Low 5% PC", "x": 40, "y": -4}, {"id": "r7", "g": "Low 5% PC", "x": 50, "y": -4}, {"id": "r7", "g": "Low 5% PC", "x": 60, "y": -2}, {"id": "r7", "g": "Low 5% PC", "x": 70, "y": 3}, {"id": "r7", "g": "Low 5% PC", "x": 80, "y": 9}, {"id": "r7", "g": "Low 5% PC", "x": 85, "y": 14}, {"id": "r7", "g": "Low 5% PC", "x": 90, "y": 16}, {"id": "r7", "g": "Low 5% PC", "x": 100, "y": 7},
      {"id": "r8", "g": "Low 5% PC", "x": 0, "y": -8}, {"id": "r8", "g": "Low 5% PC", "x": 10, "y": -2}, {"id": "r8", "g": "Low 5% PC", "x": 20, "y": 4}, {"id": "r8", "g": "Low 5% PC", "x": 30, "y": 6}, {"id": "r8", "g": "Low 5% PC", "x": 40, "y": 6}, {"id": "r8", "g": "Low 5% PC", "x": 50, "y": 7}, {"id": "r8", "g": "Low 5% PC", "x": 60, "y": 8}, {"id": "r8", "g": "Low 5% PC", "x": 70, "y": 9}, {"id": "r8", "g": "Low 5% PC", "x": 80, "y": 8}, {"id": "r8", "g": "Low 5% PC", "x": 90, "y": 6}, {"id": "r8", "g": "Low 5% PC", "x": 100, "y": 2},
      {"id": "r9", "g": "Low 5% PC", "x": 0, "y": -10}, {"id": "r9", "g": "Low 5% PC", "x": 10, "y": -8}, {"id": "r9", "g": "Low 5% PC", "x": 20, "y": -8}, {"id": "r9", "g": "Low 5% PC", "x": 30, "y": -6}, {"id": "r9", "g": "Low 5% PC", "x": 40, "y": -3}, {"id": "r9", "g": "Low 5% PC", "x": 50, "y": 0}, {"id": "r9", "g": "Low 5% PC", "x": 60, "y": 1}, {"id": "r9", "g": "Low 5% PC", "x": 70, "y": 3}, {"id": "r9", "g": "Low 5% PC", "x": 80, "y": 5}, {"id": "r9", "g": "Low 5% PC", "x": 90, "y": 7}, {"id": "r9", "g": "Low 5% PC", "x": 100, "y": 9},
      {"id": "r10", "g": "Low 5% PC", "x": 0, "y": -12}, {"id": "r10", "g": "Low 5% PC", "x": 10, "y": -11}, {"id": "r10", "g": "Low 5% PC", "x": 20, "y": -4}, {"id": "r10", "g": "Low 5% PC", "x": 30, "y": 3}, {"id": "r10", "g": "Low 5% PC", "x": 40, "y": 6}, {"id": "r10", "g": "Low 5% PC", "x": 50, "y": 9}, {"id": "r10", "g": "Low 5% PC", "x": 60, "y": 10}, {"id": "r10", "g": "Low 5% PC", "x": 70, "y": 10}, {"id": "r10", "g": "Low 5% PC", "x": 80, "y": 8}, {"id": "r10", "g": "Low 5% PC", "x": 90, "y": 4}, {"id": "r10", "g": "Low 5% PC", "x": 95, "y": 0}, {"id": "r10", "g": "Low 5% PC", "x": 100, "y": -7},
      {"id": "r11", "g": "Low 5% PC", "x": 0, "y": -1}, {"id": "r11", "g": "Low 5% PC", "x": 10, "y": -3}, {"id": "r11", "g": "Low 5% PC", "x": 20, "y": 0}, {"id": "r11", "g": "Low 5% PC", "x": 30, "y": 1}, {"id": "r11", "g": "Low 5% PC", "x": 40, "y": 0}, {"id": "r11", "g": "Low 5% PC", "x": 50, "y": 2}, {"id": "r11", "g": "Low 5% PC", "x": 60, "y": 4}, {"id": "r11", "g": "Low 5% PC", "x": 70, "y": 5}, {"id": "r11", "g": "Low 5% PC", "x": 80, "y": 5}, {"id": "r11", "g": "Low 5% PC", "x": 90, "y": 5}, {"id": "r11", "g": "Low 5% PC", "x": 100, "y": 6},
      {"id": "r12", "g": "Low 5% PC", "x": 0, "y": 2}, {"id": "r12", "g": "Low 5% PC", "x": 10, "y": 1}, {"id": "r12", "g": "Low 5% PC", "x": 20, "y": 3}, {"id": "r12", "g": "Low 5% PC", "x": 30, "y": 4}, {"id": "r12", "g": "Low 5% PC", "x": 40, "y": 5}, {"id": "r12", "g": "Low 5% PC", "x": 50, "y": 6}, {"id": "r12", "g": "Low 5% PC", "x": 60, "y": 8}, {"id": "r12", "g": "Low 5% PC", "x": 70, "y": 9}, {"id": "r12", "g": "Low 5% PC", "x": 80, "y": 10}, {"id": "r12", "g": "Low 5% PC", "x": 90, "y": 8}, {"id": "r12", "g": "Low 5% PC", "x": 100, "y": 7}
    ],
    "bot1": [
      {"g": "High PC", "x": 0, "y": 13.9}, {"g": "High PC", "x": 3, "y": 14.2}, {"g": "High PC", "x": 6, "y": 15.1}, {"g": "High PC", "x": 10, "y": 17}, {"g": "High PC", "x": 14, "y": 19.1}, {"g": "High PC", "x": 18, "y": 21}, {"g": "High PC", "x": 22, "y": 22.4}, {"g": "High PC", "x": 25, "y": 22.3}, {"g": "High PC", "x": 28, "y": 21.2}, {"g": "High PC", "x": 32, "y": 19.8}, {"g": "High PC", "x": 36, "y": 18.8}, {"g": "High PC", "x": 40, "y": 17.9}, {"g": "High PC", "x": 44, "y": 16.5}, {"g": "High PC", "x": 48, "y": 14.9}, {"g": "High PC", "x": 52, "y": 13.2}, {"g": "High PC", "x": 56, "y": 11.4}, {"g": "High PC", "x": 60, "y": 10.2}, {"g": "High PC", "x": 64, "y": 9.5}, {"g": "High PC", "x": 68, "y": 9.6}, {"g": "High PC", "x": 72, "y": 10.2}, {"g": "High PC", "x": 76, "y": 10.9}, {"g": "High PC", "x": 80, "y": 11.4}, {"g": "High PC", "x": 84, "y": 11.6}, {"g": "High PC", "x": 88, "y": 10.6}, {"g": "High PC", "x": 92, "y": 9}, {"g": "High PC", "x": 96, "y": 7.8}, {"g": "High PC", "x": 100, "y": 8.3},
      {"g": "Low PC", "x": 0, "y": -8.2}, {"g": "Low PC", "x": 3, "y": -8.1}, {"g": "Low PC", "x": 7, "y": -8.2}, {"g": "Low PC", "x": 10, "y": -7.1}, {"g": "Low PC", "x": 13, "y": -5.4}, {"g": "Low PC", "x": 15, "y": -4.2}, {"g": "Low PC", "x": 17, "y": -4.0}, {"g": "Low PC", "x": 20, "y": -5.0}, {"g": "Low PC", "x": 23, "y": -6.6}, {"g": "Low PC", "x": 25, "y": -7.0}, {"g": "Low PC", "x": 28, "y": -6.1}, {"g": "Low PC", "x": 31, "y": -4.8}, {"g": "Low PC", "x": 35, "y": -4.1}, {"g": "Low PC", "x": 38, "y": -4.2}, {"g": "Low PC", "x": 42, "y": -5.0}, {"g": "Low PC", "x": 46, "y": -5.9}, {"g": "Low PC", "x": 50, "y": -7.1}, {"g": "Low PC", "x": 55, "y": -8.8}, {"g": "Low PC", "x": 60, "y": -9.9}, {"g": "Low PC", "x": 65, "y": -10.4}, {"g": "Low PC", "x": 70, "y": -10.8}, {"g": "Low PC", "x": 75, "y": -10.9}, {"g": "Low PC", "x": 80, "y": -10.4}, {"g": "Low PC", "x": 85, "y": -9.9}, {"g": "Low PC", "x": 90, "y": -9.2}, {"g": "Low PC", "x": 95, "y": -8.2}, {"g": "Low PC", "x": 100, "y": -6.9}
    ],
    "bot2": [
      {"g": "High PC", "x": 0, "y": 18.8}, {"g": "High PC", "x": 3, "y": 19.5}, {"g": "High PC", "x": 6, "y": 19.5}, {"g": "High PC", "x": 9, "y": 19}, {"g": "High PC", "x": 12, "y": 19.5}, {"g": "High PC", "x": 15, "y": 19.5}, {"g": "High PC", "x": 18, "y": 18.1}, {"g": "High PC", "x": 21, "y": 16}, {"g": "High PC", "x": 25, "y": 13.5}, {"g": "High PC", "x": 29, "y": 11.8}, {"g": "High PC", "x": 33, "y": 11.1}, {"g": "High PC", "x": 37, "y": 10.7}, {"g": "High PC", "x": 41, "y": 9.7}, {"g": "High PC", "x": 45, "y": 7.6}, {"g": "High PC", "x": 49, "y": 4.6}, {"g": "High PC", "x": 53, "y": 1.3}, {"g": "High PC", "x": 57, "y": -2.2}, {"g": "High PC", "x": 61, "y": -5.0}, {"g": "High PC", "x": 65, "y": -6.4}, {"g": "High PC", "x": 70, "y": -6.8}, {"g": "High PC", "x": 75, "y": -6.9}, {"g": "High PC", "x": 80, "y": -7.0}, {"g": "High PC", "x": 85, "y": -7.4}, {"g": "High PC", "x": 90, "y": -8.2}, {"g": "High PC", "x": 94, "y": -8.9}, {"g": "High PC", "x": 97, "y": -8.5}, {"g": "High PC", "x": 100, "y": -7.5},
      {"g": "Low PC", "x": 0, "y": -5.9}, {"g": "Low PC", "x": 3, "y": -5.9}, {"g": "Low PC", "x": 6, "y": -5.7}, {"g": "Low PC", "x": 9, "y": -4.5}, {"g": "Low PC", "x": 12, "y": -2.2}, {"g": "Low PC", "x": 15, "y": -0.3}, {"g": "Low PC", "x": 18, "y": 0.6}, {"g": "Low PC", "x": 21, "y": 0.8}, {"g": "Low PC", "x": 25, "y": 0.8}, {"g": "Low PC", "x": 28, "y": 1.3}, {"g": "Low PC", "x": 32, "y": 2.3}, {"g": "Low PC", "x": 36, "y": 3.0}, {"g": "Low PC", "x": 40, "y": 3.2}, {"g": "Low PC", "x": 45, "y": 3.4}, {"g": "Low PC", "x": 50, "y": 3.6}, {"g": "Low PC", "x": 55, "y": 3.9}, {"g": "Low PC", "x": 60, "y": 4.3}, {"g": "Low PC", "x": 65, "y": 5.3}, {"g": "Low PC", "x": 70, "y": 6.3}, {"g": "Low PC", "x": 75, "y": 7.1}, {"g": "Low PC", "x": 80, "y": 7.6}, {"g": "Low PC", "x": 85, "y": 7.9}, {"g": "Low PC", "x": 90, "y": 8.1}, {"g": "Low PC", "x": 95, "y": 7.8}, {"g": "Low PC", "x": 100, "y": 7.9}
    ]
  },
  "concat": [
    {
      "width": 325, "height": 214,
      "title": {"text": "Knee Internal Rotation Angle PC1"},
      "layer": [
        {"data": {"name": "var1"},
         "mark": {"type": "area", "color": "#d9d9d9", "interpolate": "monotone"},
         "encoding": {
           "x": {"field": "x", "type": "quantitative", "scale": {"domain": [0, 100], "nice": false}, "axis": {"values": [0, 50, 100], "title": null}},
           "y": {"field": "v", "type": "quantitative", "scale": {"domain": [0, 100], "nice": false}, "axis": {"values": [0, 20, 40, 60, 80, 100], "title": "Variance Explained (%)"}}}},
        {"data": {"name": "pc1"},
         "mark": {"type": "line", "color": "#0000ff", "strokeWidth": 3, "interpolate": "monotone"},
         "encoding": {
           "x": {"field": "x", "type": "quantitative"},
           "y": {"field": "pc", "type": "quantitative", "scale": {"domain": [0.06, 0.14], "nice": false, "zero": false}, "axis": {"orient": "right", "values": [0.06, 0.076, 0.092, 0.108, 0.124, 0.14], "format": ".2f", "title": "PC1", "titleAngle": 270, "titleBaseline": "top", "titlePadding": 10, "labelColor": "#0000ff", "titleColor": "#0000ff", "domainColor": "#6666ff", "tickColor": "#0000ff"}}}}
      ],
      "resolve": {"scale": {"y": "independent"}}
    },
    {
      "width": 325, "height": 214,
      "title": {"text": "Knee Internal Rotation Angle PC2"},
      "layer": [
        {"data": {"name": "var2"},
         "mark": {"type": "area", "color": "#d9d9d9", "interpolate": "monotone"},
         "encoding": {
           "x": {"field": "x", "type": "quantitative", "scale": {"domain": [0, 100], "nice": false}, "axis": {"values": [0, 50, 100], "title": null}},
           "y": {"field": "v", "type": "quantitative", "scale": {"domain": [0, 100], "nice": false}, "axis": {"values": [0, 20, 40, 60, 80, 100], "title": "Variance Explained (%)"}}}},
        {"layer": [
          {"data": {"name": "zero"},
           "mark": {"type": "rule", "color": "#707070", "strokeWidth": 1.5},
           "encoding": {"y": {"field": "zero", "type": "quantitative", "scale": {"domain": [-0.15, 0.18], "nice": false, "zero": false}, "axis": {"orient": "right", "values": [-0.15, -0.084, -0.018, 0.048, 0.114, 0.18], "format": ".2f", "title": "PC2", "titleAngle": 270, "titleBaseline": "top", "titlePadding": 10, "labelColor": "#0000ff", "titleColor": "#0000ff", "domainColor": "#6666ff", "tickColor": "#0000ff"}}}},
          {"data": {"name": "pc2"},
           "mark": {"type": "line", "color": "#0000ff", "strokeWidth": 3, "interpolate": "monotone"},
           "encoding": {
             "x": {"field": "x", "type": "quantitative"},
             "y": {"field": "pc", "type": "quantitative", "axis": {"orient": "right", "values": [-0.15, -0.084, -0.018, 0.048, 0.114, 0.18], "format": ".2f", "title": "PC2", "titleAngle": 270, "titleBaseline": "top", "titlePadding": 10, "labelColor": "#0000ff", "titleColor": "#0000ff", "domainColor": "#6666ff", "tickColor": "#0000ff"}}}}
        ]}
      ],
      "resolve": {"scale": {"y": "independent"}}
    },
    {
      "width": 325, "height": 214,
      "layer": [
        {"data": {"name": "mid1"},
         "mark": {"type": "line", "strokeWidth": 1.5, "interpolate": "monotone", "opacity": 0.9},
         "encoding": {
           "x": {"field": "x", "type": "quantitative", "scale": {"domain": [0, 100], "nice": false}, "axis": {"values": [0, 50, 100], "title": null}},
           "y": {"field": "y", "type": "quantitative", "scale": {"domain": [-40, 40], "nice": false}, "axis": {"values": [-40, -20, 0, 20, 40], "title": "Degrees - Internal (+)"}},
           "detail": {"field": "id"},
           "color": {"field": "g", "type": "nominal", "scale": {"domain": ["High 5% PC", "Low 5% PC"], "range": ["#000000", "#ff0000"]}, "legend": {"orient": "none", "legendX": 162, "legendY": 11, "title": null, "fillColor": "#ffffff", "strokeColor": "#404040", "padding": 4, "symbolType": "stroke", "symbolSize": 1024, "symbolStrokeWidth": 1.3, "labelFontSize": 18, "labelFontWeight": "bold", "labelColor": "#000000", "labelOffset": 6, "rowPadding": -4}},
           "strokeDash": {"field": "g", "type": "nominal", "scale": {"domain": ["High 5% PC", "Low 5% PC"], "range": [[9, 6], [1, 0]]}, "legend": {"orient": "none", "legendX": 162, "legendY": 11, "title": null, "fillColor": "#ffffff", "strokeColor": "#404040", "padding": 4, "symbolType": "stroke", "symbolSize": 1024, "symbolStrokeWidth": 1.3, "labelFontSize": 18, "labelFontWeight": "bold", "labelColor": "#000000", "labelOffset": 6, "rowPadding": -4}}}},
        {"data": {"name": "zero"},
         "mark": {"type": "rule", "color": "#707070", "strokeWidth": 1.5},
         "encoding": {"y": {"field": "zero", "type": "quantitative", "axis": {"values": [-40, -20, 0, 20, 40], "title": "Degrees - Internal (+)"}}}}
      ]
    },
    {
      "width": 325, "height": 214,
      "layer": [
        {"data": {"name": "mid2"},
         "mark": {"type": "line", "strokeWidth": 1.5, "interpolate": "monotone", "opacity": 0.9},
         "encoding": {
           "x": {"field": "x", "type": "quantitative", "scale": {"domain": [0, 100], "nice": false}, "axis": {"values": [0, 50, 100], "title": null}},
           "y": {"field": "y", "type": "quantitative", "scale": {"domain": [-40, 40], "nice": false}, "axis": {"values": [-40, -20, 0, 20, 40], "title": "Degrees - Internal (+)"}},
           "detail": {"field": "id"},
           "color": {"field": "g", "type": "nominal", "scale": {"domain": ["High 5% PC", "Low 5% PC"], "range": ["#000000", "#ff0000"]}, "legend": {"orient": "none", "legendX": 166, "legendY": 11, "title": null, "fillColor": "#ffffff", "strokeColor": "#404040", "padding": 4, "symbolType": "stroke", "symbolSize": 1024, "symbolStrokeWidth": 1.3, "labelFontSize": 18, "labelFontWeight": "bold", "labelColor": "#000000", "labelOffset": 6, "rowPadding": -4}},
           "strokeDash": {"field": "g", "type": "nominal", "scale": {"domain": ["High 5% PC", "Low 5% PC"], "range": [[9, 6], [1, 0]]}, "legend": {"orient": "none", "legendX": 166, "legendY": 11, "title": null, "fillColor": "#ffffff", "strokeColor": "#404040", "padding": 4, "symbolType": "stroke", "symbolSize": 1024, "symbolStrokeWidth": 1.3, "labelFontSize": 18, "labelFontWeight": "bold", "labelColor": "#000000", "labelOffset": 6, "rowPadding": -4}}}},
        {"data": {"name": "zero"},
         "mark": {"type": "rule", "color": "#707070", "strokeWidth": 1.5},
         "encoding": {"y": {"field": "zero", "type": "quantitative", "axis": {"values": [-40, -20, 0, 20, 40], "title": "Degrees - Internal (+)"}}}}
      ]
    },
    {
      "width": 325, "height": 214,
      "layer": [
        {"data": {"name": "zero"},
         "mark": {"type": "rule", "color": "#707070", "strokeWidth": 1.5},
         "encoding": {"y": {"field": "zero", "type": "quantitative", "scale": {"domain": [-15, 30], "nice": false}, "axis": {"values": [-15, 0, 15, 30], "title": "Degrees - Internal (+)"}}}},
        {"data": {"name": "bot1"},
         "mark": {"type": "line", "strokeWidth": 3, "interpolate": "monotone"},
         "encoding": {
           "x": {"field": "x", "type": "quantitative", "scale": {"domain": [0, 100], "nice": false}, "axis": {"values": [0, 50, 100], "title": "% Stance Phase of Gait Cycle", "titlePadding": 13}},
           "y": {"field": "y", "type": "quantitative", "axis": {"values": [-15, 0, 15, 30], "title": "Degrees - Internal (+)"}},
           "color": {"field": "g", "type": "nominal", "scale": {"domain": ["High PC", "Low PC"], "range": ["#000000", "#ff0000"]}, "legend": {"orient": "none", "legendX": 194, "legendY": 11, "title": null, "fillColor": "#ffffff", "strokeColor": "#404040", "padding": 4, "symbolType": "stroke", "symbolSize": 1024, "symbolStrokeWidth": 3, "labelFontSize": 18, "labelFontWeight": "bold", "labelColor": "#000000", "labelOffset": 6, "rowPadding": -4}},
           "strokeDash": {"field": "g", "type": "nominal", "scale": {"domain": ["High PC", "Low PC"], "range": [[7, 6], [1, 0]]}, "legend": {"orient": "none", "legendX": 194, "legendY": 11, "title": null, "fillColor": "#ffffff", "strokeColor": "#404040", "padding": 4, "symbolType": "stroke", "symbolSize": 1024, "symbolStrokeWidth": 3, "labelFontSize": 18, "labelFontWeight": "bold", "labelColor": "#000000", "labelOffset": 6, "rowPadding": -4}}}}
      ]
    },
    {
      "width": 325, "height": 214,
      "layer": [
        {"data": {"name": "zero"},
         "mark": {"type": "rule", "color": "#707070", "strokeWidth": 1.5},
         "encoding": {"y": {"field": "zero", "type": "quantitative", "scale": {"domain": [-15, 30], "nice": false}, "axis": {"values": [-15, 0, 15, 30], "title": "Degrees - Internal (+)"}}}},
        {"data": {"name": "bot2"},
         "mark": {"type": "line", "strokeWidth": 3, "interpolate": "monotone"},
         "encoding": {
           "x": {"field": "x", "type": "quantitative", "scale": {"domain": [0, 100], "nice": false}, "axis": {"values": [0, 50, 100], "title": "% Stance Phase of Gait Cycle", "titlePadding": 13}},
           "y": {"field": "y", "type": "quantitative", "axis": {"values": [-15, 0, 15, 30], "title": "Degrees - Internal (+)"}},
           "color": {"field": "g", "type": "nominal", "scale": {"domain": ["High PC", "Low PC"], "range": ["#000000", "#ff0000"]}, "legend": {"orient": "none", "legendX": 194, "legendY": 11, "title": null, "fillColor": "#ffffff", "strokeColor": "#404040", "padding": 4, "symbolType": "stroke", "symbolSize": 1024, "symbolStrokeWidth": 3, "labelFontSize": 18, "labelFontWeight": "bold", "labelColor": "#000000", "labelOffset": 6, "rowPadding": -4}},
           "strokeDash": {"field": "g", "type": "nominal", "scale": {"domain": ["High PC", "Low PC"], "range": [[7, 6], [1, 0]]}, "legend": {"orient": "none", "legendX": 194, "legendY": 11, "title": null, "fillColor": "#ffffff", "strokeColor": "#404040", "padding": 4, "symbolType": "stroke", "symbolSize": 1024, "symbolStrokeWidth": 3, "labelFontSize": 18, "labelFontWeight": "bold", "labelColor": "#000000", "labelOffset": 6, "rowPadding": -4}}}}
      ]
    }
  ],
  "resolve": {"scale": {"color": "independent", "strokeDash": "independent", "x": "independent", "y": "independent"}, "legend": {"color": "independent", "strokeDash": "independent"}}
}
